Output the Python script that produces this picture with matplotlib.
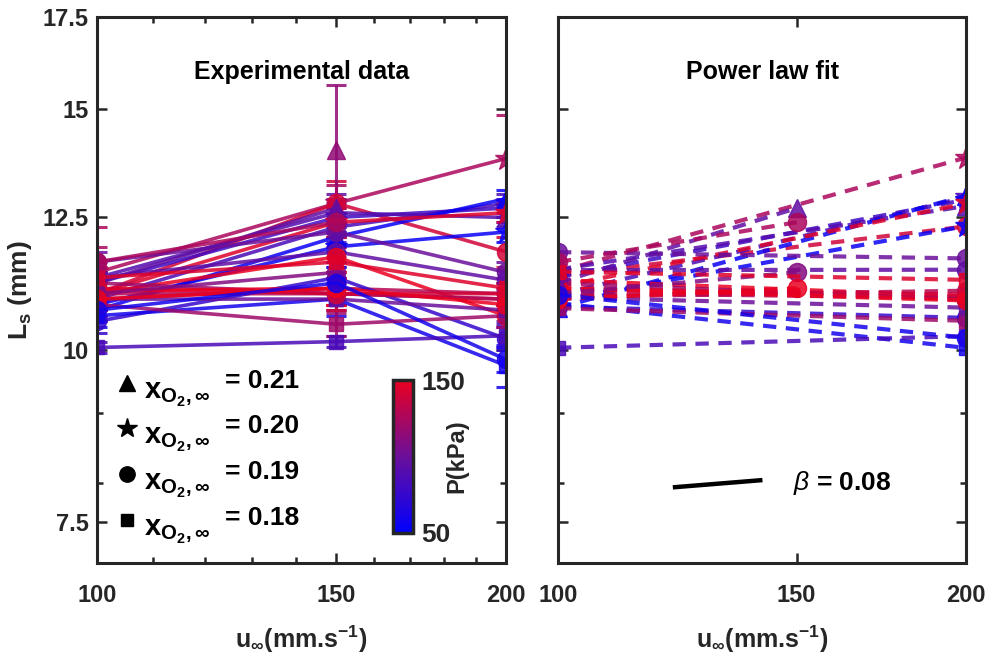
import numpy as np
import matplotlib
matplotlib.use('Agg')
import matplotlib.pyplot as plt
from matplotlib.colors import LinearSegmentedColormap, Normalize
from matplotlib.ticker import FixedLocator, NullFormatter, NullLocator
import matplotlib.cm as cm

plt.rcParams['font.family'] = ['Liberation Sans', 'DejaVu Sans']
plt.rcParams['mathtext.fontset'] = 'custom'
plt.rcParams['mathtext.rm'] = 'Liberation Sans:bold'
plt.rcParams['mathtext.it'] = 'Liberation Sans:italic'
plt.rcParams['mathtext.bf'] = 'Liberation Sans:bold'

# Dados (velocidade u, pressão P, marcador por x_O2, L_s em 100/150/200 mm/s)
u = np.array([100, 150, 200])
nan = np.nan

markers = ['*', 'o', '^', '*', '*', '^', '*', '^', '*', 'o',
           'o', 'o', 'o', 'o', 'o', 's', 's', 's', 's', 's',
           'o', 'o', '^', 'o', 'o', 'o', 'o', 's']
pressure = [125, 140, 115, 85, 80, 90, 55, 55, 145, 100,
            95, 150, 130, 120, 75, 60, 85, 120, 130, 100,
            140, 150, 95, 125, 110, 150, 60, 145]
L100 = [11.4, 11.0, nan, 10.9, 11.2, 11.3, 10.8, 10.7, 11.0, 11.6,
        11.3, 11.0, 10.9, 11.2, 10.5, 10.6, 10.05, 10.8, 11.0, 10.9,
        11.1, 11.05, 11.2, 11.6, 11.0, 10.9, 10.7, 11.3]
L150 = [12.8, 12.8, 14.0, 12.3, 12.5, 12.6, 11.9, 12.1, 12.4, 12.2,
        11.8, 11.7, 11.1, 11.0, 11.3, 10.9, 10.15, 10.45, 11.0, 10.9,
        11.0, 11.1, 12.7, 12.4, 11.4, 11.1, 11.2, 11.6]
L200 = [13.8, 11.8, nan, 12.8, 12.7, 12.5, 12.2, 12.9, 12.6, 11.4,
        11.25, 10.6, 11.0, 10.9, 10.2, 9.75, 10.25, 10.6, 10.9, 10.7,
        11.0, 10.8, nan, nan, nan, nan, 9.85, 11.1]
err100 = [0.9, 0.3, nan, 0.2, 0.2, 0.3, 0.2, 0.2, 0.3, 0.2,
          0.2, 0.25, 0.2, 0.2, 0.2, 0.2, 0.1, 0.2, 0.2, 0.2,
          0.2, 0.2, 0.2, 0.3, 0.2, 0.2, 0.2, 0.2]
err150 = [0.4, 0.5, 1.6, 0.3, 0.3, 0.3, 0.3, 0.3, 0.3, 0.3,
          0.3, 0.4, 0.3, 0.3, 0.3, 0.3, 0.1, 0.2, 0.2, 0.2,
          0.3, 0.3, 0.3, 0.3, 0.3, 0.3, 0.3, 0.3]
err200 = [1.05, 0.3, nan, 0.2, 0.2, 0.2, 0.2, 0.2, 0.2, 0.2,
          0.2, 0.2, 0.2, 0.2, 0.2, 0.35, 0.2, 0.2, 0.2, 0.2,
          0.2, 0.2, nan, nan, nan, nan, 0.2, 0.2]

beta = 0.08
x_o2 = {'^': '0.21', '*': '0.20', 'o': '0.19', 's': '0.18'}
marker_size = {'*': 17, '^': 13, 'o': 13, 's': 10}

cmap = LinearSegmentedColormap.from_list('azul_vermelho', ['#0000ff', '#6a0f9a', '#ea0020'])
norm = Normalize(vmin=50, vmax=150)
cor_eixo = '#262626'

fig = plt.figure(figsize=(9.92, 6.68), dpi=100)
ax1 = fig.add_axes([97/992, 1 - 563/668, 409/992, 546/668])
ax2 = fig.add_axes([558/992, 1 - 563/668, 408/992, 546/668])

for i in range(len(markers)):
    L = np.array([L100[i], L150[i], L200[i]])
    e = np.array([err100[i], err150[i], err200[i]])
    c = cmap(norm(pressure[i]))
    m = markers[i]
    ax1.errorbar(u, L, yerr=e, color=c, marker=m, ms=marker_size[m], lw=2.6,
                 elinewidth=2.2, capsize=7, capthick=2.2, alpha=0.85)

    # Ajuste de lei de potência (log-log)
    ok = ~np.isnan(L)
    if ok.sum() < 2:
        continue
    coef = np.polyfit(np.log(u[ok]), np.log(L[ok]), 1)
    uu = np.geomspace(u[ok][0], u[ok][-1], 60)
    ax2.plot(uu, np.exp(np.polyval(coef, np.log(uu))), '--', color=c, lw=3.0,
             dashes=(3.2, 2.3), alpha=0.85)
    ue = np.array([u[ok][0], u[ok][-1]])
    ax2.plot(ue, np.exp(np.polyval(coef, np.log(ue))), ls='none', marker=m,
             ms=marker_size[m], color=c, alpha=0.85)

for ax in [ax1, ax2]:
    ax.set_xscale('log')
    ax.set_yscale('log')
    ax.set_xlim(100, 200)
    ax.set_ylim(7.0, 17.5)
    ax.xaxis.set_major_locator(FixedLocator([100, 150, 200]))
    ax.yaxis.set_major_locator(FixedLocator([7.5, 10, 12.5, 15, 17.5]))
    ax.yaxis.set_minor_locator(FixedLocator([8, 9]))
    ax.xaxis.set_minor_formatter(NullFormatter())
    ax.yaxis.set_minor_formatter(NullFormatter())
    ax.set_xticklabels(['100', '150', '200'])
    ax.tick_params(which='both', direction='in', top=True, right=True,
                   color=cor_eixo, width=1.8)
    ax.tick_params(which='major', length=7, labelsize=17)
    ax.tick_params(axis='x', which='major', pad=15)
    ax.tick_params(axis='y', which='major', pad=6)
    ax.tick_params(which='minor', length=4)
    for lab in ax.get_xticklabels() + ax.get_yticklabels():
        lab.set_fontweight('bold')
        lab.set_color(cor_eixo)
    for s in ax.spines.values():
        s.set_linewidth(2.2)
        s.set_color(cor_eixo)
    ax.set_xlabel(r'u$_\infty$(mm.s$^{-1}$)', fontsize=18, fontweight='bold',
                  labelpad=12, color=cor_eixo)

ax1.xaxis.set_minor_locator(FixedLocator([110, 120, 130, 140, 160, 170, 180, 190]))
ax1.set_yticklabels(['7.5', '10', '12.5', '15', '17.5'])
for lab in ax1.get_yticklabels():
    lab.set_fontweight('bold')
    lab.set_color(cor_eixo)
ax2.xaxis.set_minor_locator(NullLocator())
ax2.set_yticklabels([])

ax1.set_ylabel(r'L$_\mathregular{s}$ (mm)', fontsize=19, fontweight='bold',
               labelpad=6, color=cor_eixo)

ax1.text(0.5, 0.9, 'Experimental data', transform=ax1.transAxes, ha='center',
         va='center', fontsize=18, fontweight='bold')
ax2.text(0.5, 0.9, 'Power law fit', transform=ax2.transAxes, ha='center',
         va='center', fontsize=18, fontweight='bold')

# Legenda dos marcadores (fração molar de O2)
leg_y = [0.33, 0.247, 0.163, 0.079]
for m, yy in zip(['^', '*', 'o', 's'], leg_y):
    ax1.plot([0.073], [yy], marker=m, color='black', ls='none',
             ms=marker_size[m] * 0.85, transform=ax1.transAxes)
    ax1.text(0.115, yy - 0.022, r'$\mathbf{x}_{\mathbf{O_2},\infty}$',
             transform=ax1.transAxes, fontsize=21, va='center', ha='left')
    ax1.text(0.312, yy + 0.004, '= ' + x_o2[m], transform=ax1.transAxes, fontsize=19,
             fontweight='bold', va='center', ha='left')

# Barra de cores da pressão
cax = fig.add_axes([393/992, 1 - 533/668, 20/992, 153/668])
sm = cm.ScalarMappable(norm=norm, cmap=cmap)
cb = fig.colorbar(sm, cax=cax, ticks=[50, 150])
cb.outline.set_linewidth(2.5)
cb.outline.set_edgecolor(cor_eixo)
cax.tick_params(length=0, labelsize=19, pad=6)
for lab in cax.get_yticklabels():
    lab.set_fontweight('bold')
    lab.set_color(cor_eixo)
cb.set_label('P(kPa)', fontsize=17, fontweight='bold', labelpad=-14, color=cor_eixo)

# Inclinação média beta
xb = np.array([122, 141])
ax2.plot(xb, 7.95 * (xb / xb[0]) ** beta, color='black', lw=3.2)
ax2.text(149, 8.0, r'$\mathit{\beta}$ = 0.08', fontsize=19, fontweight='bold', va='center')

fig.savefig('out.png', dpi=100)
